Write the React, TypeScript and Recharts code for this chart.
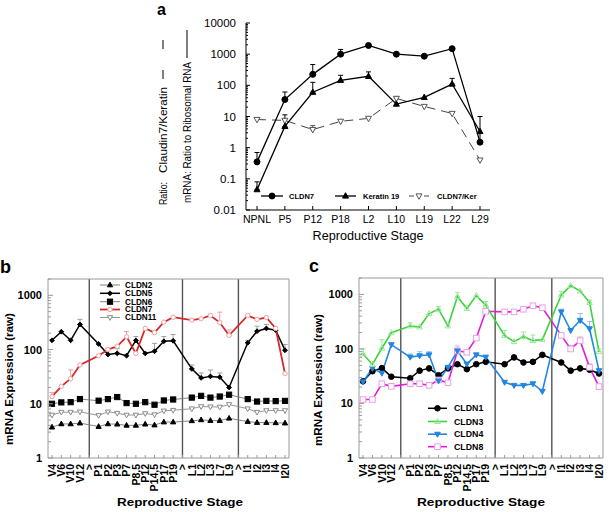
import React from 'react'
import { LineChart, Line, XAxis, YAxis, ErrorBar, ReferenceLine } from 'recharts'

const FONT = '"Liberation Sans", Arial, Helvetica, sans-serif'
const FRAME = '#9a9a9a'

// ---------- panel a ----------
const stagesA = ['NPNL', 'P5', 'P12', 'P18', 'L2', 'L10', 'L19', 'L22', 'L29']
const cldn7A = [0.35, 35, 225, 1000, 1900, 1000, 860, 1500, 1.5]
const keratin19A = [0.045, 4.8, 60, 145, 195, 25, 41, 110, 3.3]
const ratioA = [8, 7.5, 3.8, 7, 8.7, 38, 21, 12.5, 0.4]
// upper error read from the caps
const cldn7ErrA = [0.35, 26, 240, 420, 300, null, null, null, 8.5]
const keratin19ErrA = [0.035, 6.5, 65, 65, 75, null, null, 57, null]
const ratioErrA = [null, null, 1.3, null, null, 6, null, null, null]
const decadesA = [0.01, 0.1, 1, 10, 100, 1000, 10000]

// ---------- panels b and c ----------
const stagesBC = ['V4', 'V6', 'V10', 'V12', '>', 'P1', 'P2', 'P3', 'P7', 'P8,5', 'P12', 'P14,5', 'P17', 'P19', '>',
  'L1', 'L2', 'L3', 'L7', 'L9', '>', 'I1', 'I2', 'I3', 'I4', 'I20']
const decadesBC = [1, 10, 100, 1000]

const cldn2B = [3.7, 4.25, 4.25, 4.4, null, 3.8, 4.25, 4.2, 4, 4, 4.2, 4.05, 4.6, 4.6, null, 4.85, 5.05, 4.9, 4.9, 5.4, null, 4.7, 4.5, 4.5, 4.45, 4.4]
const cldn5B = [148, 213, 148, 290, null, 127, 81, 85, 77, 147, 85, 93, 142, 145, null, 44, 30, 32, 31, 20, null, 133, 218, 245, 228, 97]
const cldn6B = [10, 10.6, 10.7, 12.2, null, 11.4, 12.2, 13.3, 10.3, 10, 10.7, 9.6, 11.5, 12, null, 13, 14, 13, 13.6, 14.7, null, 12.2, 11, 11.3, 11.2, 11.3]
const cldn7B = [13.6, 21, 29, 52, null, 77, 100, 115, 172, 85, 245, 205, 320, 395, null, 350, 370, 425, 315, 183, null, 425, 360, 390, 245, 36]
const cldn11B = [6.2, 7, 7, 7.1, null, 6.1, 7.1, 6.7, 6.2, 6.2, 6.6, 6.3, 7.4, 7.6, null, 8.1, 8.9, 8.8, 8.7, 9.7, null, 8.1, 7, 7.5, 7.5, 7.5]
const cldn5ErrB = [null, null, null, 70, null, null, 24, 20, null, 27, null, 37, 32, 45, null, 8, 7, 10, 6, null, null, 15, 52, 45, null, 27]
const cldn7ErrB = [2.5, null, 13, null, null, null, null, null, 43, null, null, null, null, null, null, null, null, null, 175, 47, null, null, null, null, null, null]

const cldn1C = [25.5, 39, 44.5, 31, null, 29, 40, 44, 33, 44, 52.5, 42.5, 52.5, 58, null, 52.5, 70, 56.5, 58, 78, null, 56.5, 40, 44, 41.5, 35.5]
const cldn3C = [81, 52, 103, 198, null, 264, 252, 445, 535, 264, 910, 550, 950, 635, null, 176, 136, 168, 142, 148, null, 970, 1450, 1150, 710, 89]
const cldn4C = [25, 44, 36, 120, null, 71, 75, 78, 26, 46, 92, 53, 78, 71, null, 24.5, 21.5, 21.5, 23, 16.7, null, 478, 218, 335, 235, 40]
const cldn8C = [11.8, 11.8, 23, 20.6, null, 23, 23, 21.5, 27, 24, 92, 87, 158, 490, null, 478, 478, 535, 620, 570, null, 177, 100, 142, 46, 20.4]
const cldn3ErrC = [19, null, 45, null, null, 36, null, null, 65, null, 180, null, null, 105, null, 42, null, 37, 38, null, null, 170, null, null, 70, 11]
const cldn4ErrC = [null, null, null, null, null, 10, 14, 11, null, null, null, null, null, null, null, null, null, null, null, null, null, 57, null, 110, 85, null]
const cldn8ErrC = [null, null, null, null, null, null, null, null, null, null, 21, null, null, null, null, null, null, null, null, null, null, null, 15, 24, 7, null]

const up = (e: number | null) => (e == null ? null : [0, e])

const rowsA = stagesA.map((stage, i) => ({
  stage,
  cldn7: cldn7A[i], keratin19: keratin19A[i], ratio: ratioA[i],
  cldn7Err: up(cldn7ErrA[i]), keratin19Err: up(keratin19ErrA[i]), ratioErr: up(ratioErrA[i]),
}))

const rowsB = stagesBC.map((stage, i) => ({
  i, stage,
  cldn2: cldn2B[i], cldn5: cldn5B[i], cldn6: cldn6B[i], cldn7: cldn7B[i], cldn11: cldn11B[i],
  cldn5Err: up(cldn5ErrB[i]), cldn7Err: up(cldn7ErrB[i]),
}))

const rowsC = stagesBC.map((stage, i) => ({
  i, stage,
  cldn1: cldn1C[i], cldn3: cldn3C[i], cldn4: cldn4C[i], cldn8: cldn8C[i],
  cldn3Err: up(cldn3ErrC[i]), cldn4Err: up(cldn4ErrC[i]), cldn8Err: up(cldn8ErrC[i]),
}))

const dividers = stagesBC.map((s, i) => (s === '>' ? i : -1)).filter((i) => i >= 0)

// log ticks: decades plus 2..9 minor marks
const withMinor = (decs: number[]) =>
  decs.flatMap((d, k) => (k === decs.length - 1 ? [d] : [1, 2, 3, 4, 5, 6, 7, 8, 9].map((m) => m * d)))
const ticksA = withMinor(decadesA)
const ticksBC = [...withMinor(decadesBC), 2000]
const isDecade = (v: number) => Math.abs(Math.log10(v) - Math.round(Math.log10(v))) < 1e-6

function logTick(o: { stroke: string; major: number; minor: number; gap: number; size: number; weight: string }) {
  return (p: any) => {
    const v = p.payload.value
    const big = isDecade(v)
    return (
      <g>
        <line x1={p.x} x2={p.x + (big ? o.major : o.minor)} y1={p.y} y2={p.y} stroke={o.stroke} strokeWidth={1} />
        {big && (
          <text x={p.x - o.gap} y={p.y} dy="0.36em" textAnchor="end" fontSize={o.size} fontWeight={o.weight}
            fontFamily={FONT} fill="#000">
            {String(v)}
          </text>
        )}
      </g>
    )
  }
}

const tickA = (p: any) => (
  <g>
    <line x1={p.x} x2={p.x} y1={p.y} y2={p.y - 4} stroke="#000" />
    <text x={p.x} y={p.y + 13} textAnchor="middle" fontSize={10.5} fontFamily={FONT} fill="#000">
      {p.payload.value}
    </text>
  </g>
)

const stageTick = (p: any) => {
  const ty = p.y + 6
  return (
    <g>
      <line x1={p.x} x2={p.x} y1={p.y} y2={p.y - 3} stroke={FRAME} />
      <text x={p.x} y={ty} dy="0.36em" transform={`rotate(-90 ${p.x} ${ty})`} textAnchor="end" fontSize={10.5}
        fontWeight="bold" fontFamily={FONT} fill="#000">
        {stagesBC[p.payload.value]}
      </text>
    </g>
  )
}

function Marker({ shape, x, y, s, fill, stroke, sw = 1 }: any) {
  if (shape === 'circle') return <circle cx={x} cy={y} r={s} fill={fill} stroke={stroke} strokeWidth={sw} />
  if (shape === 'square')
    return <rect x={x - s} y={y - s} width={2 * s} height={2 * s} fill={fill} stroke={stroke} strokeWidth={sw} />
  let d = ''
  if (shape === 'up') d = `M${x},${y - s * 1.1}L${x + s},${y + s * 0.7}L${x - s},${y + s * 0.7}Z`
  if (shape === 'down') d = `M${x},${y + s * 1.1}L${x + s},${y - s * 0.7}L${x - s},${y - s * 0.7}Z`
  if (shape === 'diamond') d = `M${x},${y - s}L${x + s},${y}L${x},${y + s}L${x - s},${y}Z`
  return <path d={d} fill={fill} stroke={stroke} strokeWidth={sw} />
}

const dot = (m: any) => (p: any) => {
  if (!Number.isFinite(p.cx) || !Number.isFinite(p.cy)) return <g key={`dot-${p.index}`} />
  return (
    <g key={`dot-${p.index}`}>
      <Marker shape={m.shape} x={p.cx} y={p.cy} s={m.s} fill={m.fill} stroke={m.mstroke} sw={1} />
    </g>
  )
}

const seriesA = [
  { key: 'ratio', name: 'CLDN7/Ker', color: '#444', width: 1, dash: '9 6', shape: 'down', s: 3, fill: '#fff', mstroke: '#555', errColor: '#555' },
  { key: 'keratin19', name: 'Keratin 19', color: '#000', width: 1.3, shape: 'up', s: 3, fill: '#000', mstroke: '#000', errColor: '#000' },
  { key: 'cldn7', name: 'CLDN7', color: '#000', width: 1.3, shape: 'circle', s: 3, fill: '#000', mstroke: '#000', errColor: '#000' },
]

const seriesB = [
  { key: 'cldn2', name: 'CLDN2', color: '#777', width: 0.9, shape: 'up', s: 2.6, fill: '#000', mstroke: '#000' },
  { key: 'cldn5', name: 'CLDN5', color: '#000', width: 1.5, shape: 'diamond', s: 2.4, fill: '#000', mstroke: '#000', err: true, errColor: '#a0a0a0' },
  { key: 'cldn6', name: 'CLDN6', color: '#777', width: 0.9, shape: 'square', s: 2.6, fill: '#000', mstroke: '#000' },
  { key: 'cldn7', name: 'CLDN7', color: '#d42a2a', width: 1.8, shape: 'circle', s: 2.2, fill: '#fff', mstroke: '#f0a0a0', err: true, errColor: '#f0a0a0' },
  { key: 'cldn11', name: 'CLDN11', color: '#8a8a8a', width: 0.9, shape: 'down', s: 2.6, fill: '#fff', mstroke: '#8a8a8a' },
]

const seriesC = [
  { key: 'cldn1', name: 'CLDN1', color: '#000', width: 1.5, shape: 'circle', s: 2.8, fill: '#000', mstroke: '#000' },
  { key: 'cldn3', name: 'CLDN3', color: '#3ed23e', width: 1.6, shape: 'up', s: 2.8, fill: 'none', mstroke: '#9be89b', err: true, errColor: '#9be89b' },
  { key: 'cldn4', name: 'CLDN4', color: '#2286e0', width: 1.6, shape: 'down', s: 2.8, fill: '#2286e0', mstroke: '#2286e0', err: true, errColor: '#8ec0ee' },
  { key: 'cldn8', name: 'CLDN8', color: '#e020d8', width: 1.6, shape: 'square', s: 2.8, fill: '#fff', mstroke: '#e8a0e8', err: true, errColor: '#e8a0e8' },
]

const drawOrderB = ['cldn2', 'cldn6', 'cldn11', 'cldn5', 'cldn7']

function ChartA() {
  return (
    <LineChart width={609} height={512} data={rowsA} margin={{ top: 23, right: 119, bottom: 272, left: 206 }}>
      <XAxis dataKey="stage" type="category" padding={{ left: 11, right: 10 }} height={30} interval={0}
        tickSize={0} tickMargin={0} tickLine={false} axisLine={{ stroke: '#000' }} tick={tickA} />
      <YAxis type="number" scale="log" domain={[0.01, 10000]} allowDataOverflow ticks={ticksA} interval={0} width={40}
        tickSize={0} tickMargin={0} tickLine={false} axisLine={{ stroke: '#000' }}
        tick={logTick({ stroke: '#000', major: 4, minor: 2, gap: 10, size: 11.5, weight: 'normal' })} />
      {seriesA.map((s) => (
        <Line key={s.key} dataKey={s.key} type="linear" stroke={s.color} strokeWidth={s.width}
          strokeDasharray={s.dash} dot={dot(s)} activeDot={false} isAnimationActive={false}>
          <ErrorBar dataKey={`${s.key}Err`} direction="y" width={2.5} stroke={s.errColor} strokeWidth={1} />
        </Line>
      ))}
    </LineChart>
  )
}

function ChartBC({ rows, series, order, margin }: any) {
  const byKey = Object.fromEntries(series.map((s: any) => [s.key, s]))
  return (
    <LineChart width={609} height={512} data={rows} margin={margin}>
      <XAxis dataKey="i" type="category" allowDuplicatedCategory={false} padding={{ left: 4, right: 4 }} height={40}
        interval={0} tickSize={0} tickMargin={0} tickLine={false} axisLine={{ stroke: FRAME }} tick={stageTick} />
      <XAxis xAxisId="top" orientation="top" dataKey="i" type="category" allowDuplicatedCategory={false}
        padding={{ left: 4, right: 4 }} height={1} tick={false} tickLine={false} axisLine={{ stroke: FRAME }} />
      <YAxis type="number" scale="log" domain={[1, 2000]} allowDataOverflow ticks={ticksBC} interval={0} width={40}
        tickSize={0} tickMargin={0} tickLine={false} axisLine={{ stroke: FRAME }}
        tick={logTick({ stroke: FRAME, major: 5, minor: 3, gap: 6, size: 11, weight: 'bold' })} />
      <YAxis yAxisId="right" orientation="right" type="number" scale="log" domain={[1, 2000]} allowDataOverflow
        width={1} tick={false} tickLine={false} axisLine={{ stroke: FRAME }} />
      {dividers.map((d) => (
        <ReferenceLine key={d} x={d} stroke="#555" strokeWidth={1.4} />
      ))}
      {order.map((k: string) => {
        const s = byKey[k]
        return (
          <Line key={s.key} dataKey={s.key} type="linear" stroke={s.color} strokeWidth={s.width} connectNulls
            dot={dot(s)} activeDot={false} isAnimationActive={false}>
            {s.err && <ErrorBar dataKey={`${s.key}Err`} direction="y" width={2.5} stroke={s.errColor} strokeWidth={1} />}
          </Line>
        )
      })}
    </LineChart>
  )
}

function VText({ x, y, len, size, weight = 'normal', anchor = 'start', children }: any) {
  return (
    <text x={x} y={y} transform={`rotate(-90 ${x} ${y})`} textAnchor={anchor} fontSize={size} fontWeight={weight}
      fontFamily={FONT} fill="#000" textLength={len} lengthAdjust="spacingAndGlyphs">
      {children}
    </text>
  )
}

function LegendRow({ s, x1, x2, y, tx, size, dash }: any) {
  const mx = (x1 + x2) / 2
  return (
    <g>
      {dash ? (
        <>
          <line x1={x1} x2={mx - 5} y1={y} y2={y} stroke={s.color} strokeWidth={s.width} />
          <line x1={mx + 5} x2={x2} y1={y} y2={y} stroke={s.color} strokeWidth={s.width} />
        </>
      ) : (
        <line x1={x1} x2={x2} y1={y} y2={y} stroke={s.color} strokeWidth={s.width} />
      )}
      <Marker shape={s.shape} x={mx} y={y} s={s.s} fill={s.fill} stroke={s.mstroke} />
      <text x={tx} y={y} dy="0.36em" fontSize={size} fontWeight="bold" fontFamily={FONT} fill="#000">
        {s.name}
      </text>
    </g>
  )
}

function Annotations() {
  const [ratio, krt, c7] = seriesA
  const legendYB = [285, 293.3, 301.7, 309.5, 317.5]
  const legendYC = [408.3, 421.5, 434.2, 446.7]
  return (
    <svg width={609} height={512} style={{ position: 'absolute', left: 0, top: 0, pointerEvents: 'none' }}>
      {/* panel letters */}
      <text x={157} y={14.5} fontSize={16} fontWeight="bold" fontFamily={FONT}>a</text>
      <text x={0} y={273} fontSize={18} fontWeight="bold" fontFamily={FONT}>b</text>
      <text x={309} y={272} fontSize={18} fontWeight="bold" fontFamily={FONT}>c</text>

      {/* panel a axis titles */}
      <VText x={167} y={205} len={23} size={11.5}>Ratio:</VText>
      <VText x={167} y={173} len={86} size={11.5}>Claudin7/Keratin</VText>
      <line x1={163} x2={163} y1={70} y2={79} stroke="#000" />
      <line x1={163} x2={163} y1={40} y2={49} stroke="#000" />
      <VText x={191} y={203} len={141} size={11.5}>mRNA: Ratio to Ribosomal RNA</VText>
      <line x1={187} x2={187} y1={30} y2={58} stroke="#000" />
      <text x={368} y={240} textAnchor="middle" fontSize={12.5} fontFamily={FONT} textLength={111}
        lengthAdjust="spacingAndGlyphs">Reproductive Stage</text>

      {/* panel a legend */}
      <LegendRow s={c7} x1={261} x2={283} y={196} tx={289} size={7.5} />
      <LegendRow s={krt} x1={335} x2={356} y={196} tx={363} size={7.5} />
      <LegendRow s={ratio} x1={409} x2={429} y={196} tx={437} size={7.5} dash />

      {/* panel b */}
      <VText x={13} y={379} len={132} size={11} weight="bold" anchor="middle">mRNA Expression (raw)</VText>
      <text x={180} y={506} textAnchor="middle" fontSize={11.5} fontWeight="bold" fontFamily={FONT} textLength={126}
        lengthAdjust="spacingAndGlyphs">Reproductive Stage</text>
      {seriesB.map((s, k) => (
        <LegendRow key={s.key} s={s} x1={100} x2={120} y={legendYB[k]} tx={125} size={8.2} />
      ))}

      {/* panel c */}
      <VText x={322} y={380} len={132} size={11} weight="bold" anchor="middle">mRNA Expression (raw)</VText>
      <text x={481} y={506} textAnchor="middle" fontSize={11.5} fontWeight="bold" fontFamily={FONT} textLength={128}
        lengthAdjust="spacingAndGlyphs">Reproductive Stage</text>
      {seriesC.map((s, k) => (
        <LegendRow key={s.key} s={s} x1={428} x2={447} y={legendYC[k]} tx={454} size={8.8} />
      ))}
    </svg>
  )
}

export default function App() {
  return (
    <div style={{ position: 'absolute', left: 0, top: 0, width: 609, height: 512, background: '#fff', overflow: 'hidden' }}>
      <div style={{ position: 'absolute', left: 0, top: 0 }}>
        <ChartA />
      </div>
      <div style={{ position: 'absolute', left: 0, top: 0 }}>
        <ChartBC rows={rowsB} series={seriesB} order={drawOrderB}
          margin={{ top: 278, right: 319, bottom: 14, left: 8 }} />
      </div>
      <div style={{ position: 'absolute', left: 0, top: 0 }}>
        <ChartBC rows={rowsC} series={seriesC} order={['cldn1', 'cldn8', 'cldn4', 'cldn3']}
          margin={{ top: 277, right: 5, bottom: 14, left: 319 }} />
      </div>
      <Annotations />
    </div>
  )
}
